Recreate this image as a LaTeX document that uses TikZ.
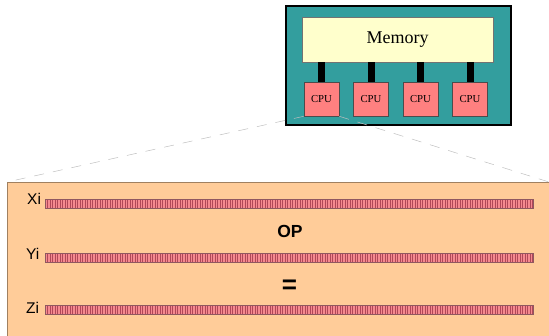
\documentclass[tikz,border=0pt]{standalone}
\usepackage{fontspec}
\setmainfont{Liberation Serif}
\newfontfamily\lsans{Liberation Sans}
\definecolor{tealbg}{HTML}{339E9E}
\definecolor{memfill}{HTML}{FFFFCC}
\definecolor{cpufill}{HTML}{FF8080}
\definecolor{peach}{HTML}{FFCC99}
\definecolor{peachedge}{HTML}{A08060}
\definecolor{barfill}{HTML}{F58A90}
\definecolor{stripe}{HTML}{B04858}
\definecolor{baredge}{HTML}{905860}
\tikzset{
  cpubox/.style={draw=black!70, line width=0.6pt, fill=cpufill, minimum width=35pt, minimum height=34pt, inner sep=0pt, font=\fontsize{10.7}{12}\selectfont},
  membus/.style={line width=7pt, black},
  zoomline/.style={draw=black!25, line width=0.5pt, dash pattern=on 10pt off 9pt},
  vecbar/.style={draw=baredge, line width=0.6pt, fill=barfill, minimum width=488pt, minimum height=9pt, inner sep=0pt, anchor=west,
    path picture={\foreach \k in {1,...,195}{\draw[stripe, line width=0.7pt] ([xshift=\k*2.5pt]path picture bounding box.north west) -- ([xshift=\k*2.5pt]path picture bounding box.south west);}}},
  veclabel/.style={font=\lsans\fontsize{15.5}{17}\selectfont, anchor=base west, inner sep=0pt},
}
\begin{document}
\begin{tikzpicture}[x=1pt,y=-1pt]
\useasboundingbox (0,0) rectangle (549,335);
\clip (0,0) rectangle (549,335);
% lower panel
\coordinate (pl) at (7,182);
\coordinate (pr) at (549,182);
\draw[peachedge, fill=peach, line width=0.8pt] (pl) rectangle (560,345);
% upper machine
\node[draw=black, line width=2pt, fill=tealbg, minimum width=225pt, minimum height=119pt, inner sep=0pt] (mach) at (398.5,65.5) {};
\node[draw=black!55, line width=0.6pt, fill=memfill, minimum width=191pt, minimum height=45pt, inner sep=0pt, font=\fontsize{18}{20}\selectfont] (mem) at (397.5,39.5) {Memory};
\node[cpubox] (c1) at (321.5,99) {CPU};
\node[cpubox] (c2) at (371,99) {CPU};
\node[cpubox] (c3) at (420.5,99) {CPU};
\node[cpubox] (c4) at (470,99) {CPU};
\foreach \c in {c1,c2,c3,c4}{\draw[membus] (mem.south -| \c.north) -- (\c.north);}
% zoom lines
\draw[zoomline] (c1.south west) -- (pl);
\draw[zoomline] (c1.south east) -- (pr);
% vectors
\node[vecbar] (xb) at (45,203.5) {};
\node[vecbar] (yb) at (45,257.5) {};
\node[vecbar] (zb) at (45,309.5) {};
\node[veclabel] (xl) at (27,204.5) {Xi};
\node[veclabel] (yl) at (26,259) {Yi};
\node[veclabel] (zl) at (26,313) {Zi};
\node[font=\lsans\bfseries\fontsize{17.5}{20}\selectfont, inner sep=0pt] (op) at (290,231) {OP};
\node[font=\lsans\bfseries\fontsize{26}{28}\selectfont, inner sep=0pt] (eq) at (289.5,287) {=};
\end{tikzpicture}
\end{document}
